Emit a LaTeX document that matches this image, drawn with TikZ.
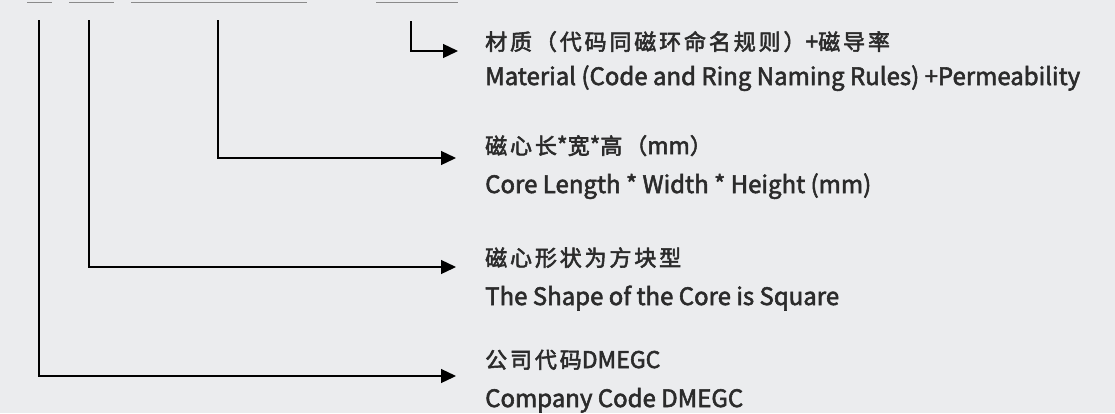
\documentclass[tikz,border=0pt]{standalone}
\usepackage{fontspec}
\usetikzlibrary{arrows.meta}
\newfontfamily\zhfont{Noto Sans CJK SC}[LetterSpace=13]
\newfontfamily\enfont{Noto Sans CJK SC}
\newcommand{\lat}[1]{{\enfont\fontsize{23}{26}\selectfont #1}}
\newcommand{\semib}[1]{\special{pdf:literal direct 2 Tr 0.55 w}#1\special{pdf:literal direct 0 Tr}}
\definecolor{bg}{HTML}{EBECEE}
\definecolor{txt}{HTML}{2B2B2B}
\definecolor{blank}{HTML}{8A8A8A}
\tikzset{
  zhtext/.style={anchor=base west, inner sep=0pt, text=txt, font=\zhfont\fontsize{22}{24}\selectfont},
  entext/.style={anchor=base west, inner sep=0pt, text=txt, font=\enfont\fontsize{24}{26}\selectfont},
  blankline/.style={draw=blank, line width=1pt},
  conn/.style={draw=black, line width=1.3pt, -{Triangle[length=15pt,width=14pt]}},
}
\begin{document}
\begin{tikzpicture}[x=1pt,y=-1pt]
\fill[bg] (0,0) rectangle (1115,413);
\useasboundingbox (0,0) rectangle (1115,413);
% blanks at top
\draw[blankline] (27,2) -- (52,2);
\draw[blankline] (69,2) -- (114,2);
\draw[blankline] (131,2) -- (307,2);
\draw[blankline] (376,2) -- (458,2);
% vertical tops
\coordinate (v1) at (411,21);
\coordinate (v2) at (218,20);
\coordinate (v3) at (89,20);
\coordinate (v4) at (39,20);
% arrow ends
\coordinate (e1) at (458,51);
\coordinate (e2) at (456,158);
\coordinate (e3) at (456,267);
\coordinate (e4) at (456,376);
% texts
\node[zhtext] (t1zh) at (485,50) {\semib{材质（代码同磁环命名规则）\lat{+}磁导率}};
\node[entext] (t1en) at (485,85) {\semib{Material (Code and Ring Naming Rules) +Permeability}};
\node[zhtext] (t2zh) at (485,154) {\semib{磁心长\lat{*}宽\lat{*}高（\lat{mm}）}};
\node[entext] (t2en) at (485,193) {\semib{Core Length * Width * Height (mm)}};
\node[zhtext] (t3zh) at (485,266) {\semib{磁心形状为方块型}};
\node[entext] (t3en) at (485,305) {\semib{The Shape of the Core is Square}};
\node[zhtext] (t4zh) at (485,368) {\semib{公司代码\lat{DMEGC}}};
\node[entext] (t4en) at (485,407) {\semib{Company Code DMEGC}};
% connectors
\draw[conn] (v1) |- (e1);
\draw[conn] (v2) |- (e2);
\draw[conn] (v3) |- (e3);
\draw[conn] (v4) |- (e4);
\end{tikzpicture}
\end{document}
